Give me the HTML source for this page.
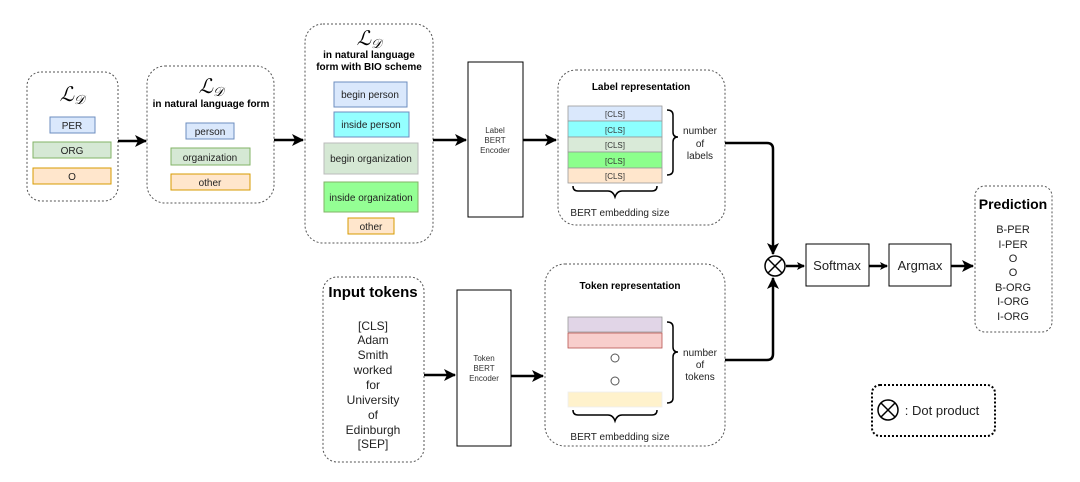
<!DOCTYPE html>
<html><head><meta charset="utf-8"><style>
body{margin:0;background:#fff}
svg{display:block;font-family:"Liberation Sans",sans-serif}
</style></head><body>
<svg width="1080" height="482" viewBox="0 0 1080 482" xmlns="http://www.w3.org/2000/svg">
<defs><marker id="a" markerWidth="8" markerHeight="8" refX="7" refY="4" orient="auto" markerUnits="userSpaceOnUse"><path d="M0,0 L8,4 L0,8 L2,4z" fill="#000"/></marker>
<marker id="b" markerWidth="12" markerHeight="12" refX="11" refY="6" orient="auto" markerUnits="userSpaceOnUse"><path d="M0,0 L12,6 L0,12 L3,6z" fill="#000"/></marker></defs>
<g fill="none" stroke="#555" stroke-dasharray="2,2" stroke-width="1">
<rect x="27" y="72" width="91" height="129" rx="14"/>
<rect x="147" y="66" width="127" height="137" rx="18"/>
<rect x="305" y="24" width="128" height="219" rx="18"/>
<rect x="558" y="70" width="167" height="155" rx="18"/>
<rect x="323" y="277" width="101" height="185" rx="14"/>
<rect x="545" y="264" width="180" height="182" rx="20"/>
<rect x="975" y="186" width="77" height="146" rx="10"/>
</g>
<rect x="872" y="385" width="123" height="51" rx="8" fill="none" stroke="#000" stroke-width="2" stroke-dasharray="2,2"/>
<g font-family="Liberation Serif,serif" font-style="italic" font-size="20" text-anchor="middle">
<text x="72" y="101">ℒ<tspan font-size="13" dy="3">𝒟</tspan></text>
<text x="211" y="93">ℒ<tspan font-size="13" dy="3">𝒟</tspan></text>
<text x="369" y="45">ℒ<tspan font-size="13" dy="3">𝒟</tspan></text>
</g>
<g stroke-width="1">
<rect x="50" y="117" width="45" height="16" fill="#dae8fc" stroke="#6c8ebf"/>
<rect x="33" y="142" width="78" height="16" fill="#d5e8d4" stroke="#82b366"/>
<rect x="33" y="168" width="78" height="16" fill="#ffe6cc" stroke="#d79b00"/>
<rect x="186" y="123" width="48" height="16" fill="#dae8fc" stroke="#6c8ebf"/>
<rect x="171" y="148" width="79" height="17" fill="#d5e8d4" stroke="#82b366"/>
<rect x="171" y="174" width="79" height="16" fill="#ffe6cc" stroke="#d79b00"/>
<rect x="334" y="82" width="73" height="25" fill="#dae8fc" stroke="#6c8ebf"/>
<rect x="334" y="112" width="75" height="25" fill="#66ffff" stroke="#6c8ebf" fill-opacity=".7"/>
<rect x="324" y="143" width="94" height="31" fill="#d5e8d4" stroke="#bbb"/>
<rect x="324" y="182" width="94" height="30" fill="#66ff66" stroke="#82b366" fill-opacity=".7"/>
<rect x="348" y="218" width="46" height="16" fill="#ffe6cc" stroke="#d79b00"/>
</g>
<g font-size="10" text-anchor="middle" fill="#222">
<text x="72" y="129">PER</text><text x="72" y="154">ORG</text><text x="72" y="180">O</text>
<text x="210" y="135">person</text><text x="210" y="161">organization</text><text x="210" y="186">other</text>
<text x="370" y="98">begin person</text><text x="371" y="128">inside person</text><text x="371" y="162">begin organization</text><text x="371" y="201">inside organization</text><text x="371" y="230">other</text>
</g>
<g font-size="10" font-weight="bold" text-anchor="middle">
<text x="211" y="107">in natural language form</text>
<text x="369" y="58">in natural language</text><text x="369" y="70">form with BIO scheme</text>
<text x="641" y="90">Label representation</text>
<text x="630" y="289">Token representation</text>
</g>
<text x="373" y="297" font-size="15" font-weight="bold" text-anchor="middle">Input tokens</text>
<text x="1013" y="209" font-size="14" font-weight="bold" text-anchor="middle">Prediction</text>
<rect x="468" y="62" width="55" height="155" fill="#fff" stroke="#000"/>
<rect x="457" y="290" width="54" height="156" fill="#fff" stroke="#000"/>
<g font-size="8" text-anchor="middle" fill="#333">
<text x="495" y="133">Label</text><text x="495" y="143">BERT</text><text x="495" y="153">Encoder</text>
<text x="484" y="361">Token</text><text x="484" y="371">BERT</text><text x="484" y="381">Encoder</text>
</g>
<g stroke="#999" stroke-width=".8">
<rect x="568" y="106" width="94" height="15" fill="#dae8fc"/>
<rect x="568" y="121" width="94" height="16" fill="#66ffff" fill-opacity=".75"/>
<rect x="568" y="137" width="94" height="15" fill="#d5e8d4" fill-opacity=".9"/>
<rect x="568" y="152" width="94" height="16" fill="#66ff66" fill-opacity=".75"/>
<rect x="568" y="168" width="94" height="15" fill="#ffe6cc"/>
<rect x="568" y="317" width="94" height="15" fill="#e1d5e7"/>
<rect x="568" y="333" width="94" height="15" fill="#f8cecc" stroke="#b85450"/>
<rect x="568" y="392" width="94" height="15" fill="#fff2cc" stroke="#eee"/>
</g>
<g font-size="8" text-anchor="middle" fill="#333">
<text x="615" y="117">[CLS]</text><text x="615" y="133">[CLS]</text><text x="615" y="148">[CLS]</text><text x="615" y="164">[CLS]</text><text x="615" y="179">[CLS]</text>
</g>
<circle cx="615" cy="358" r="4" fill="none" stroke="#555"/>
<circle cx="615" cy="381" r="4" fill="none" stroke="#555"/>
<g fill="none" stroke="#000" stroke-width="1.5">
<path d="M667,110 q6,0 6,5 v17 q0,5 5,5 q-5,0 -5,5 v28 q0,5 -6,5"/>
<path d="M573,186 q0,5 5,5 h30 q5,0 7,6 q2,-6 7,-6 h30 q5,0 5,-5"/>
<path d="M667,322 q6,0 6,5 v20 q0,5 5,5 q-5,0 -5,5 v41 q0,5 -6,5"/>
<path d="M573,410 q0,5 5,5 h30 q5,0 7,6 q2,-6 7,-6 h30 q5,0 5,-5"/>
</g>
<g font-size="10" text-anchor="middle" fill="#222">
<text x="700" y="134">number</text><text x="700" y="147">of</text><text x="700" y="159">labels</text>
<text x="700" y="356">number</text><text x="700" y="368">of</text><text x="700" y="380">tokens</text>
<text x="620" y="216">BERT embedding size</text>
<text x="620" y="440">BERT embedding size</text>
</g>
<g font-size="12" text-anchor="middle" fill="#222">
<text x="373" y="330">[CLS]</text><text x="373" y="344">Adam</text><text x="373" y="359">Smith</text><text x="373" y="374">worked</text><text x="373" y="389">for</text><text x="373" y="404">University</text><text x="373" y="419">of</text><text x="373" y="434">Edinburgh</text><text x="373" y="448">[SEP]</text>
</g>
<g font-size="11" text-anchor="middle" fill="#222">
<text x="1013" y="233">B-PER</text><text x="1013" y="248">I-PER</text><text x="1013" y="262">O</text><text x="1013" y="276">O</text><text x="1013" y="291">B-ORG</text><text x="1013" y="305">I-ORG</text><text x="1013" y="320">I-ORG</text>
</g>
<g stroke="#000" stroke-width="2.5" fill="none">
<line x1="118" y1="141" x2="146" y2="141" marker-end="url(#b)"/>
<line x1="274" y1="140" x2="303" y2="140" marker-end="url(#b)"/>
<line x1="433" y1="140" x2="466" y2="140" marker-end="url(#b)"/>
<line x1="523" y1="140" x2="556" y2="140" marker-end="url(#b)"/>
<line x1="424" y1="375" x2="455" y2="375" marker-end="url(#b)"/>
<line x1="511" y1="376" x2="543" y2="376" marker-end="url(#b)"/>
<path d="M725,143 h42 q6,0 6,6 v105" marker-end="url(#b)"/>
<path d="M725,360 h42 q6,0 6,-6 v-76" marker-end="url(#b)"/>
<line x1="786" y1="266" x2="804" y2="266" marker-end="url(#a)"/>
<line x1="869" y1="266" x2="887" y2="266" marker-end="url(#a)"/>
<line x1="951" y1="266" x2="973" y2="266" marker-end="url(#b)"/>
</g>
<g stroke="#000" stroke-width="1.5" fill="#fff">
<circle cx="775" cy="266" r="10"/>
<path d="M768,259 L782,273 M782,259 L768,273"/>
<circle cx="888" cy="410" r="10"/>
<path d="M881,403 L895,417 M895,403 L881,417"/>
</g>
<rect x="806" y="244" width="63" height="42" fill="#fff" stroke="#000"/>
<rect x="889" y="244" width="62" height="42" fill="#fff" stroke="#000"/>
<g font-size="13" text-anchor="middle" fill="#222">
<text x="837" y="270">Softmax</text><text x="920" y="270">Argmax</text>
<text x="942" y="415">: Dot product</text>
</g>
</svg>
</body></html>
